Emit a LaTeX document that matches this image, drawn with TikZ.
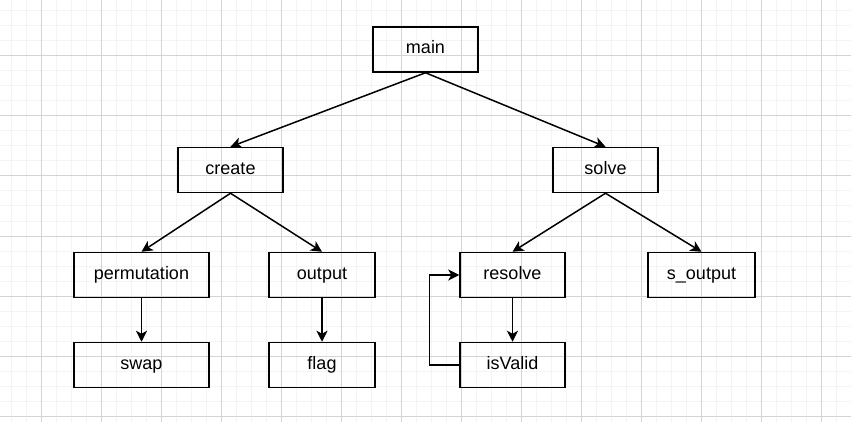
\documentclass[tikz,border=0pt]{standalone}
\usepackage{fontspec}
\setmainfont{Liberation Sans}
\usetikzlibrary{arrows.meta}
\definecolor{gridminor}{RGB}{244,244,244}
\definecolor{gridmajor}{RGB}{212,212,212}

\begin{document}
\begin{tikzpicture}[
    		x=1pt, y=-1pt,
    		every node/.style={anchor=center, font=\fontsize{18}{20}\selectfont, inner sep=0pt},
    		func/.style={draw, line width=1.5pt, minimum height=45pt, minimum width=105pt, text height=13pt, text depth=4pt},
    		to/.style={-{Stealth[length=11pt, width=11pt, inset=3pt]}, line width=1.5pt}
    		]
    		
    		\useasboundingbox (0,0) rectangle (851,422);
    		\fill[white] (0,0) rectangle (851,422);
    		\foreach \x in {11,26,...,851} \draw[gridminor, line width=1pt] (\x,0) -- (\x,422);
    		\foreach \y in {11,26,...,422} \draw[gridminor, line width=1pt] (0,\y) -- (851,\y);
    		\foreach \x in {41,101,...,851} \draw[gridmajor, line width=1pt] (\x,0) -- (\x,422);
    		\foreach \y in {56,116,...,422} \draw[gridmajor, line width=1pt] (0,\y) -- (851,\y);
    		
    		\node[func] (main) at (425.5,49.5) {main};
    		\node[func] (create) at (230.5,170) {create};
    		\node[func] (solve) at (605.5,170) {solve};
    		\node[func, minimum width=135pt] (permutation) at (141.5,275) {permutation};
    		\node[func, minimum width=106pt] (output) at (322,275) {output};
    		\node[func] (resolve) at (512.5,275) {resolve};
    		\node[func, minimum width=107pt] (soutput) at (701.5,275) {s\_output};
    		\node[func, minimum width=135pt] (swap) at (141.5,365) {swap};
    		\node[func, minimum width=106pt] (flag) at (322,365) {flag};
    		\node[func] (isValid) at (512.5,365) {isValid};
    		
    		\draw[to] (main.south) -- (create.north);
    		\draw[to] (main.south) -- (solve.north);
    		\draw[to] (create.south) -- (permutation.north);
    		\draw[to] (create.south) -- (output.north);
    		\draw[to] (solve.south) -- (resolve.north);
    		\draw[to] (solve.south) -- (soutput.north);
    		\draw[to] (permutation) -- (swap);
    		\draw[to] (output) -- (flag);
    		\draw[to] (resolve) -- (isValid);
    		\draw[to] (isValid.west) -- ++(-30,0) |- (resolve.west);
    		
    		\end{tikzpicture}
\end{document}
